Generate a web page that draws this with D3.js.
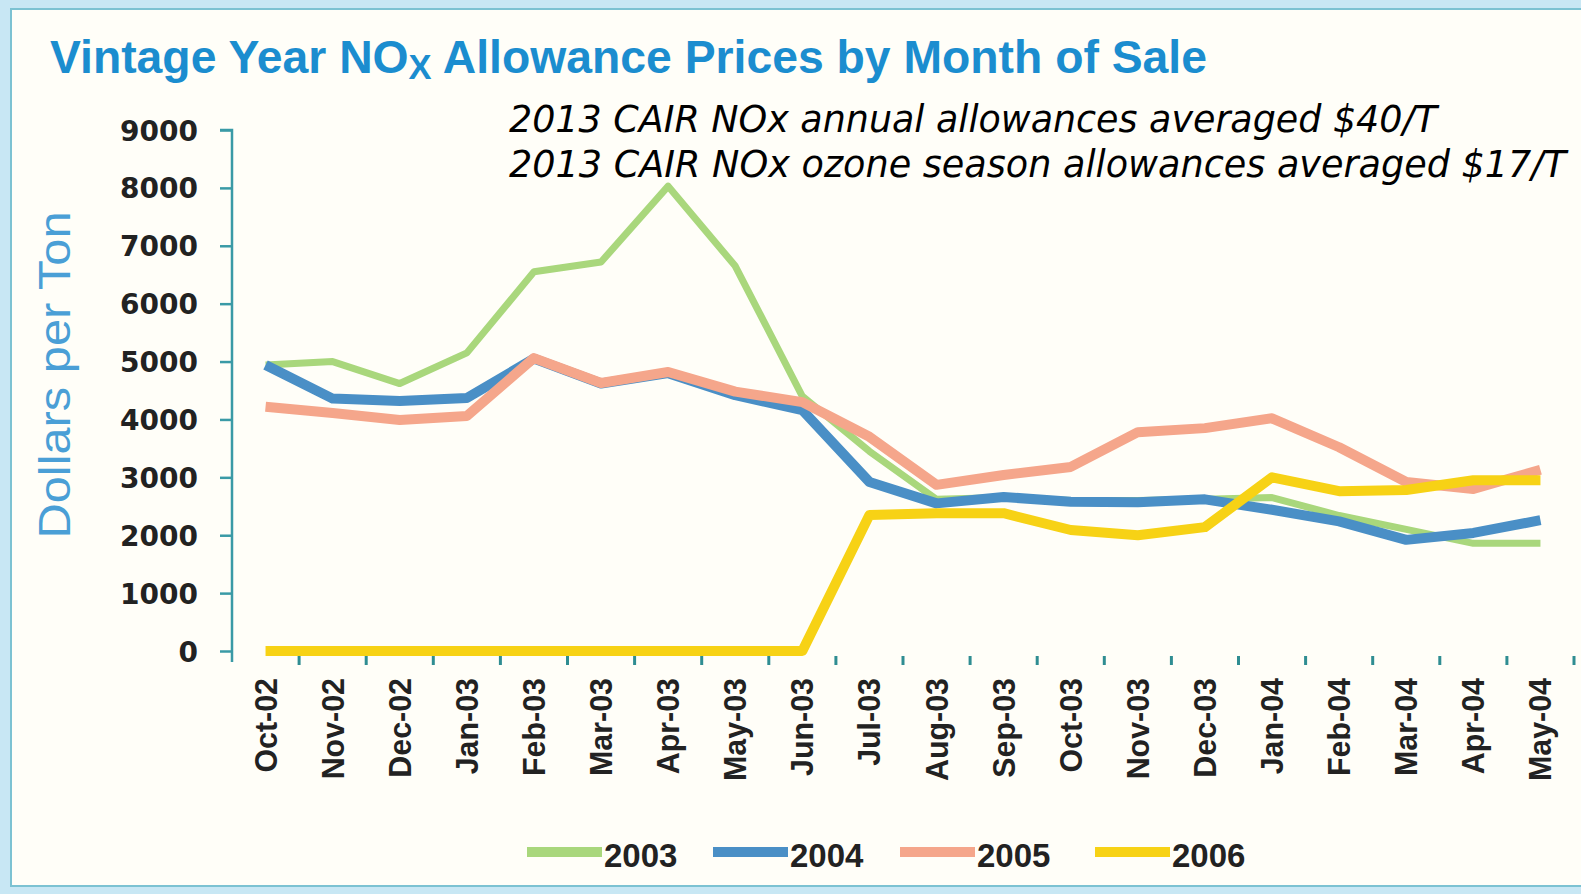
<!DOCTYPE html>
<html>
<head>
  <script src="https://cdn.jsdelivr.net/npm/d3@7"></script>
  <style>
    body { margin: 0; background: #c8e7f4; }
    svg { display: block; }
  </style>
</head>
<body>
  <script>
    var width = 1581, height = 894;

    // data
    var months = ["Oct-02", "Nov-02", "Dec-02", "Jan-03", "Feb-03", "Mar-03", "Apr-03", "May-03", "Jun-03", "Jul-03",
                  "Aug-03", "Sep-03", "Oct-03", "Nov-03", "Dec-03", "Jan-04", "Feb-04", "Mar-04", "Apr-04", "May-04"];
    var vintages = ["2003", "2004", "2005", "2006"];
    var v2003 = [4940, 5000, 4620, 5150, 6550, 6720, 8030, 6650, 4400, 3450, 2620, 2650, 2600, 2600, 2620, 2650, 2340, 2100, 1860, 1860];
    var v2004 = [4940, 4360, 4320, 4370, 5050, 4620, 4800, 4420, 4160, 2920, 2550, 2660, 2580, 2570, 2620, 2440, 2240, 1920, 2040, 2260];
    var v2005 = [4220, 4110, 3990, 4060, 5060, 4630, 4820, 4480, 4300, 3700, 2870, 3040, 3180, 3780, 3850, 4020, 3520, 2920, 2800, 3130];
    var v2006 = [0, 0, 0, 0, 0, 0, 0, 0, 0, 2350, 2380, 2380, 2090, 2000, 2140, 3000, 2760, 2780, 2950, 2950];
    var yTicks = [0, 1000, 2000, 3000, 4000, 5000, 6000, 7000, 8000, 9000];
    var notes = ["2013 CAIR NOx annual allowances averaged $40/T",
                 "2013 CAIR NOx ozone season allowances averaged $17/T"];

    var colors = ["#a9d77c", "#4a8fc6", "#f5a68b", "#f7d215"];
    var widths = [7, 10, 10, 10];
    var series = [v2003, v2004, v2005, v2006];

    var svg = d3.select("body").append("svg").attr("width", width).attr("height", height);

    // frame
    svg.append("rect").attr("x", 0).attr("y", 0).attr("width", width).attr("height", height).attr("fill", "#c8e7f4");
    svg.append("rect").attr("x", 11).attr("y", 9).attr("width", width).attr("height", 877)
      .attr("fill", "#fffef8").attr("stroke", "#7cc2d2").attr("stroke-width", 2);

    var x = d3.scaleBand().domain(months).range([232, 1574]).padding(0);
    var y = d3.scaleLinear().domain([0, 9000]).range([651, 130]);
    var cx = function(i) { return x(months[i]) + x.bandwidth() / 2; };

    // title
    var title = svg.append("text")
      .attr("x", 50).attr("y", 73)
      .attr("textLength", 1157).attr("lengthAdjust", "spacingAndGlyphs")
      .style("font-family", "Liberation Sans, Arial, sans-serif")
      .style("font-weight", "bold").style("font-size", "47px")
      .attr("fill", "#1b8dcf");
    title.append("tspan").text("Vintage Year NO");
    title.append("tspan").attr("dy", 6).style("font-size", "35px").text("X");
    title.append("tspan").attr("dy", -6).text(" Allowance Prices by Month of Sale");

    // notes
    svg.selectAll("text.note").data(notes).enter().append("text")
      .attr("class", "note")
      .attr("x", 509)
      .attr("y", function(d, i) { return 132 + i * 45; })
      .attr("textLength", function(d, i) { return i === 0 ? 928 : 1057; })
      .attr("lengthAdjust", "spacingAndGlyphs")
      .style("font-family", "DejaVu Sans, sans-serif")
      .style("font-style", "oblique").style("font-size", "37px")
      .attr("fill", "#000")
      .text(function(d) { return d; });

    // y axis
    var yAxis = svg.append("g").attr("transform", "translate(232,0)")
      .call(d3.axisLeft(y).tickValues(yTicks).tickSize(12).tickPadding(22).tickFormat(d3.format("d")));
    yAxis.select(".domain").attr("d", "M-12,130H0V662").attr("stroke", "#3a9aa6").attr("stroke-width", 2.5).attr("fill", "none");
    yAxis.selectAll(".tick line").attr("stroke", "#3a9aa6").attr("stroke-width", 2.5);
    yAxis.selectAll(".tick text")
      .style("font-family", "DejaVu Sans, sans-serif").style("font-weight", "bold").style("font-size", "28px")
      .attr("fill", "#222").attr("dy", "0.36em");

    svg.append("text")
      .attr("transform", "translate(70,375) rotate(-90)")
      .attr("text-anchor", "middle")
      .attr("textLength", 327).attr("lengthAdjust", "spacingAndGlyphs")
      .style("font-family", "Liberation Sans, Arial, sans-serif").style("font-size", "44px")
      .attr("fill", "#4a9fd6")
      .text("Dollars per Ton");

    // x ticks sit on the band edges
    svg.append("g").selectAll("line").data(months).enter().append("line")
      .attr("x1", function(d) { return x(d) + x.bandwidth(); })
      .attr("x2", function(d) { return x(d) + x.bandwidth(); })
      .attr("y1", 656).attr("y2", 665)
      .attr("stroke", "#2f8d92").attr("stroke-width", 3);

    svg.append("g").selectAll("text").data(months).enter().append("text")
      .attr("transform", function(d, i) { return "translate(" + (cx(i) + 11) + ",678) rotate(-90) scale(0.95,1)"; })
      .attr("text-anchor", "end")
      .style("font-family", "Liberation Sans, Arial, sans-serif").style("font-weight", "bold").style("font-size", "32px")
      .attr("fill", "#222")
      .text(function(d) { return d; });

    // lines
    var line = d3.line().x(function(d, i) { return cx(i); }).y(function(d) { return y(d); });
    svg.append("g").selectAll("path").data(series).enter().append("path")
      .attr("d", line)
      .attr("fill", "none")
      .attr("stroke", function(d, i) { return colors[i]; })
      .attr("stroke-width", function(d, i) { return widths[i]; })
      .attr("stroke-linejoin", "round");

    // legend
    var legend = svg.append("g").selectAll("g").data(vintages).enter().append("g")
      .attr("transform", function(d, i) { return "translate(" + [527, 713, 900, 1095][i] + ",852)"; });
    legend.append("line").attr("x1", 0).attr("x2", 75).attr("y1", 0).attr("y2", 0)
      .attr("stroke", function(d, i) { return colors[i]; }).attr("stroke-width", 10);
    legend.append("text").attr("x", 77).attr("y", 15)
      .style("font-family", "Liberation Sans, Arial, sans-serif").style("font-weight", "bold").style("font-size", "33px")
      .attr("fill", "#222")
      .text(function(d) { return d; });
  </script>
</body>
</html>
